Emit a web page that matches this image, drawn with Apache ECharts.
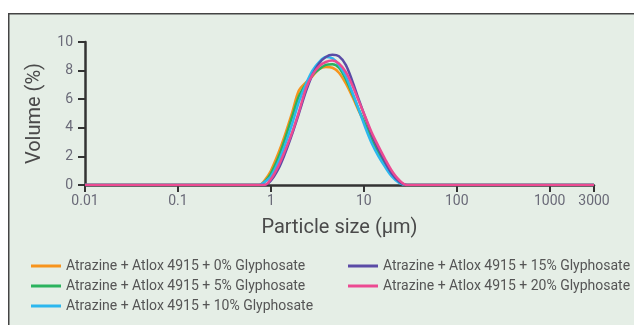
<!DOCTYPE html>
<html>
<head>
<meta charset="utf-8">
<script src="https://cdn.jsdelivr.net/npm/echarts@6/dist/echarts.min.js"></script>
<style>
html, body { margin: 0; padding: 0; background: #fff; }
#chart { width: 634px; height: 325px; }
</style>
</head>
<body>
<div id="chart"></div>
<script>
// particle sizes (µm) shared by all series
var sizes = [0.01, 0.75, 0.85, 1.0, 1.2, 1.4, 1.7, 2.0, 2.4, 2.8, 3.3, 3.9, 4.6, 5.4, 6.4, 7.5, 8.8, 10.4, 12.2, 14.4, 17, 20, 24, 29, 3000];

var seriesNames = [
    'Atrazine + Atlox 4915 + 0% Glyphosate',
    'Atrazine + Atlox 4915 + 5% Glyphosate',
    'Atrazine + Atlox 4915 + 10% Glyphosate',
    'Atrazine + Atlox 4915 + 15% Glyphosate',
    'Atrazine + Atlox 4915 + 20% Glyphosate'
];
var seriesColors = ['#f7941d', '#2bb35e', '#2cb7ee', '#5a4ba6', '#ec4a92'];

var vol0  = [0, 0, 0.3, 1.0, 2.2, 3.4, 5.1, 6.6, 7.2, 7.6, 8.1, 8.25, 8.2, 7.85, 7.1, 6.2, 5.2, 4.2, 3.2, 2.3, 1.5, 0.7, 0.2, 0, 0];
var vol5  = [0, 0, 0.2, 0.8, 1.9, 3.1, 4.8, 6.2, 7.1, 7.7, 8.1, 8.4, 8.45, 8.2, 7.4, 6.4, 5.3, 4.2, 3.1, 2.2, 1.45, 0.75, 0.25, 0, 0];
var vol10 = [0, 0, 0.2, 0.6, 1.6, 2.7, 4.3, 5.8, 7.1, 8.0, 8.6, 8.95, 8.85, 8.4, 7.6, 6.5, 5.3, 4.0, 2.9, 2.0, 1.25, 0.6, 0.15, 0, 0];
var vol15 = [0, 0, 0, 0.3, 1.1, 2.1, 3.6, 5.0, 6.6, 7.7, 8.5, 8.95, 9.1, 9.0, 8.4, 7.3, 6.0, 4.7, 3.5, 2.5, 1.6, 0.8, 0.25, 0, 0];
var vol20 = [0, 0, 0, 0.4, 1.3, 2.3, 3.7, 5.1, 6.8, 7.7, 8.3, 8.6, 8.7, 8.5, 7.9, 7.0, 5.9, 4.75, 3.65, 2.7, 1.8, 1.0, 0.35, 0, 0];
var volumes = [vol0, vol5, vol10, vol15, vol20];

function pairs(xs, ys) {
    var out = [];
    for (var i = 0; i < xs.length; i++) {
        out.push([xs[i], ys[i]]);
    }
    return out;
}

var font = 'Roboto, sans-serif';

var series = [];
for (var i = 0; i < seriesNames.length; i++) {
    series.push({
        name: seriesNames[i],
        type: 'line',
        data: pairs(sizes, volumes[i]),
        smooth: 0.3,
        showSymbol: false,
        lineStyle: { width: 2.5, color: seriesColors[i] },
        itemStyle: { color: seriesColors[i] }
    });
}

var legendStyle = {
    orient: 'vertical',
    itemWidth: 30,
    itemHeight: 3,
    itemGap: 6,
    icon: 'rect',
    textStyle: { fontSize: 14, color: '#555', fontFamily: font }
};

var chart = echarts.init(document.getElementById('chart'));
chart.setOption({
    backgroundColor: '#fff',
    animation: false,
    graphic: [{
        type: 'rect',
        left: 8, top: 13, z: -10,
        shape: { width: 640, height: 330 },
        style: { fill: '#e5eee6', stroke: '#444', lineWidth: 1.5 }
    }],
    grid: { left: 85, right: 40, top: 42, bottom: 140 },
    legend: [
        Object.assign({ left: 26, top: 254, data: seriesNames.slice(0, 3) }, legendStyle),
        Object.assign({ left: 343, top: 254, data: seriesNames.slice(3) }, legendStyle)
    ],
    xAxis: {
        type: 'log',
        logBase: 10,
        min: 0.01,
        max: 3000,
        name: 'Particle size (µm)',
        nameLocation: 'middle',
        nameGap: 33,
        nameTextStyle: { fontSize: 20, color: '#4a4a4a', fontFamily: font },
        axisLine: { lineStyle: { color: '#333', width: 2.5 } },
        axisTick: { length: 7, lineStyle: { color: '#333', width: 2 } },
        axisLabel: {
            fontSize: 14, color: '#6a6a78', margin: 9, fontFamily: font,
            formatter: function (v) { return String(v); }
        },
        splitLine: { show: false }
    },
    yAxis: {
        type: 'value',
        min: 0,
        max: 10,
        interval: 2,
        name: 'Volume (%)',
        nameLocation: 'middle',
        nameGap: 40,
        nameTextStyle: { fontSize: 20, color: '#4a4a4a', fontFamily: font },
        axisLine: { show: true, lineStyle: { color: '#333', width: 2.5 } },
        axisTick: { show: true, length: 7, lineStyle: { color: '#333', width: 2 } },
        axisLabel: { fontSize: 14, color: '#6a6a78', margin: 12, fontFamily: font },
        splitLine: { show: false }
    },
    series: series
});
</script>
</body>
</html>
